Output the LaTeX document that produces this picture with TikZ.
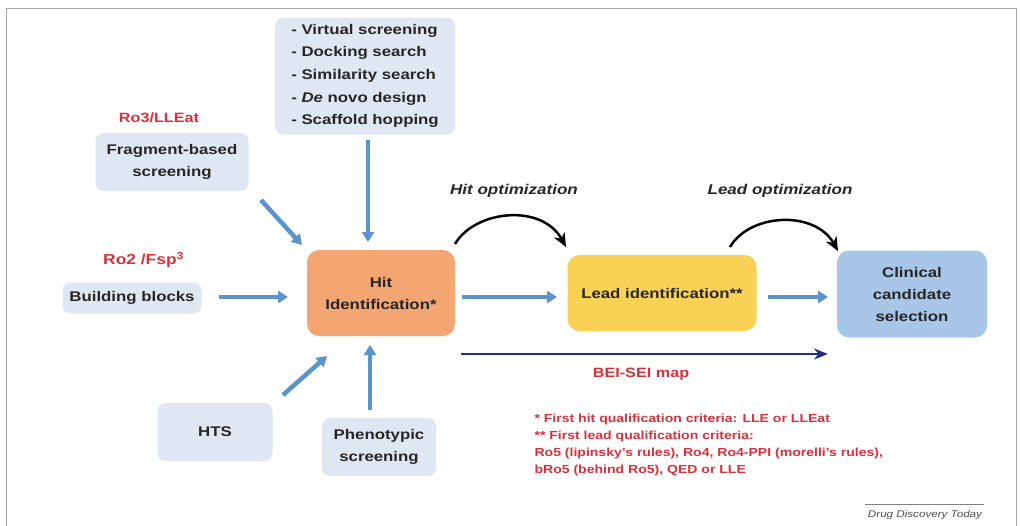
\documentclass[tikz,border=0pt]{standalone}
\usepackage{fontspec}
\setmainfont{Liberation Sans}[FakeStretch=1.2]
\usetikzlibrary{arrows.meta}
\definecolor{boxblue}{HTML}{DFE8F2}
\definecolor{arrblue}{HTML}{5B93CC}
\definecolor{hitorange}{HTML}{F4A672}
\definecolor{leadyellow}{HTML}{F9D154}
\definecolor{clinblue}{HTML}{A7C6E8}
\definecolor{navy}{HTML}{1F2F86}
\definecolor{critred}{HTML}{D8303C}
\tikzset{
  sbox/.style={rounded corners=8pt, fill=boxblue, align=center, font=\bfseries\fontsize{14}{22}\selectfont, text=black!85},
  mainbox/.style={rounded corners=12pt, align=center, font=\bfseries\fontsize{14}{22}\selectfont, text=black!85},
  barrow/.style={arrblue, line width=4.5pt, -{Triangle[length=10pt,width=12pt]}},
  curvarr/.style={black, line width=2.5pt, -{Stealth[length=14pt,width=12pt]}},
  redlab/.style={text=critred, font=\bfseries\fontsize{13.5}{16}\selectfont},
  optlab/.style={font=\bfseries\itshape\fontsize{14.2}{16}\selectfont, text=black!85},
  note/.style={text=critred, font=\bfseries\fontsize{11.7}{17.2}\selectfont, align=left, anchor=north west}
}
\begin{document}
\begin{tikzpicture}[x=1pt,y=-1pt]
\useasboundingbox (0,0) rectangle (1020,525);
% frame
\draw[black!35, line width=0.8pt] (6,530) -- (6,8) -- (1016,8) -- (1016,530);

% boxes
\node[sbox, minimum width=180pt, minimum height=117pt, font=\bfseries\fontsize{14}{22.7}\selectfont, align=left] (vs) at (365,76)
  {- Virtual screening\\- Docking search\\- Similarity search\\- \textit{De} novo design\\- Scaffold hopping};
\node[sbox, minimum width=153pt, minimum height=58pt] (frag) at (172,162) {Fragment-based\\screening};
\node[sbox, minimum width=139pt, minimum height=31pt] (bb) at (132,298) {Building blocks};
\node[sbox, minimum width=115pt, minimum height=58pt] (hts) at (215,432) {HTS};
\node[sbox, minimum width=114pt, minimum height=58pt] (pheno) at (379,447) {Phenotypic\\screening};

\node[mainbox, fill=hitorange, minimum width=148pt, minimum height=86pt] (hit) at (381,293) {Hit\\Identification*};
\node[mainbox, fill=leadyellow, minimum width=189pt, minimum height=76pt] (lead) at (662,293) {Lead identification**};
\node[mainbox, fill=clinblue, minimum width=150pt, minimum height=87pt] (clin) at (912,294) {Clinical\\candidate\\selection};

% red labels
\node[redlab] (ro3) at (159,118) {Ro3/LLEat};
\node[redlab, font=\bfseries\fontsize{14.5}{16}\selectfont] (ro2) at (143,260) {Ro2 /Fsp$^{\mathbf{3}}$};

% input arrows
\draw[barrow] (368,140) -- (368,242);
\draw[barrow] (261,200) -- (302,245);
\draw[barrow] (219,297) -- (288,297);
\draw[barrow] (283,395) -- (327,356);
\draw[barrow] (370,410) -- (370,345);

% flow arrows
\draw[barrow] (462,297) -- (557,297);
\draw[barrow] (768,297) -- (828,297);

% optimization curves
\draw[curvarr] (455,244) .. controls (475,210) and (542,203) .. (566,247);
\draw[curvarr] (730,247) .. controls (750,213) and (815,210) .. (838,251);
\node[optlab] (hitopt) at (514,191) {Hit optimization};
\node[optlab] (leadopt) at (780,191) {Lead optimization};

% BEI-SEI
\draw[navy, line width=2.5pt, -{Stealth[length=14pt,width=11pt]}] (461,354) -- (828,354);
\node[text=critred, font=\bfseries\fontsize{13.5}{14}\selectfont] (bei) at (641,374) {BEI-SEI map};

% notes
\node[note] (notes) at (531,410) {* First hit qualification criteria: LLE or LLEat\\** First lead qualification criteria:\\Ro5 (lipinsky's rules), Ro4, Ro4-PPI (morelli's rules),\\bRo5 (behind Ro5), QED or LLE};

% journal
\draw[black!50, line width=0.6pt] (865,504) -- (984,504);
\node[font=\itshape\fontsize{9.7}{10}\selectfont, text=black!70] (ddt) at (925,515) {Drug Discovery Today};
\end{tikzpicture}
\end{document}
